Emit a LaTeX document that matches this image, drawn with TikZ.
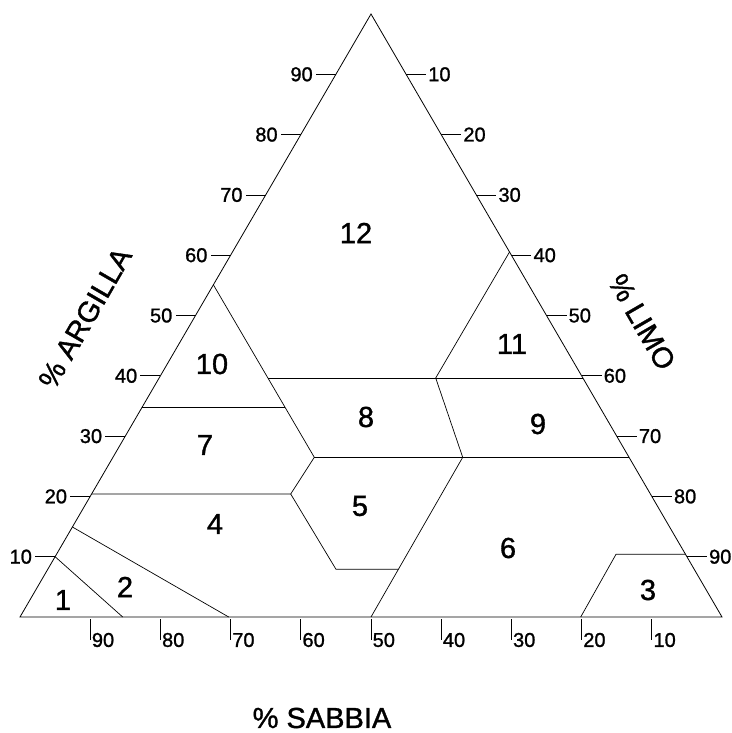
\documentclass[tikz,border=0pt]{standalone}
\usepackage{fontspec}
\setmainfont{Liberation Sans}
\newfontfamily\heavyfont{Liberation Sans}[FakeBold=1.2]
\begin{document}
\begin{tikzpicture}[x=1pt,y=-1pt,
  edge/.style={line width=0.8pt, black},
  bound/.style={line width=0.7pt, black},
  tickline/.style={line width=0.7pt, black},
  ticklab/.style={inner sep=0pt, font=\heavyfont\fontsize{20}{21}\selectfont},
  regionlab/.style={inner sep=0pt, font=\heavyfont\fontsize{29}{30}\selectfont},
  axislab/.style={inner sep=0pt, font=\heavyfont\fontsize{29}{31}\selectfont}]
\useasboundingbox (0,0) rectangle (731,733);
% triangle
\coordinate (L) at (20,617);
\coordinate (R) at (722,617);
\coordinate (T) at (371,14);
\draw[edge] (L) -- (R) -- (T) -- cycle;
% ticks: clay (left)
\foreach \c in {10,20,...,90} {
  \coordinate (cl\c) at ({20+3.51*\c},{617-6.03*\c});
  \draw[tickline] (cl\c) -- ++(-20,0) coordinate (clt\c);
  \node[ticklab, anchor=east] (cll\c) at ([xshift=-3pt]clt\c) {\c};
}
% ticks: silt (right)
\foreach \s in {10,20,...,90} {
  \coordinate (sr\s) at ({722-3.51*(100-\s)},{617-6.03*(100-\s)});
  \draw[tickline] (sr\s) -- ++(20,0) coordinate (srt\s);
  \node[ticklab, anchor=west] (srl\s) at ([xshift=2pt]srt\s) {\s};
}
% ticks: sand (bottom)
\foreach \a in {10,20,...,90} {
  \coordinate (sb\a) at ({20+7.02*(100-\a)},619);
  \draw[tickline] (sb\a) -- ++(0,21) coordinate (sbt\a);
  \node[ticklab, anchor=west] (sbl\a) at ([xshift=1.5pt]sbt\a) {\a};
}
% region vertices
\coordinate (p1) at (55.1,556.7);
\coordinate (p2) at (122.7,617);
\coordinate (p3) at (72.4,527);
\coordinate (p4) at (228.7,617);
\coordinate (p5) at (91.6,494);
\coordinate (p6) at (290.7,494);
\coordinate (p7) at (142,407.5);
\coordinate (p8) at (285.2,407.5);
\coordinate (p9) at (213.5,285);
\coordinate (p10) at (314.3,457.3);
\coordinate (p11) at (268.2,378);
\coordinate (p12) at (583,378);
\coordinate (p13) at (435.7,378);
\coordinate (p14) at (462.7,457.3);
\coordinate (p15) at (628.7,457.3);
\coordinate (p16) at (509.5,252);
\coordinate (p17) at (336,569.3);
\coordinate (p18) at (398.4,569.3);
\coordinate (p19) at (371,617);
\coordinate (p20) at (580.7,617);
\coordinate (p21) at (616,554.3);
\coordinate (p22) at (685.7,554.3);
% boundaries
\draw[bound] (p1) -- (p2);
\draw[bound] (p3) -- (p4);
\draw[bound] (p5) -- (p6) -- (p10);
\draw[bound] (p7) -- (p8);
\draw[bound] (p9) -- (p10);
\draw[bound] (p11) -- (p12);
\draw[bound] (p10) -- (p15);
\draw[bound] (p16) -- (p13) -- (p14);
\draw[bound] (p14) -- (p19);
\draw[bound] (p6) -- (p17) -- (p18);
\draw[bound] (p20) -- (p21) -- (p22);
% region labels
\node[regionlab] (r1) at (63,600) {1};
\node[regionlab] (r2) at (125,587) {2};
\node[regionlab] (r3) at (648,590) {3};
\node[regionlab] (r4) at (215,524) {4};
\node[regionlab] (r5) at (360,506) {5};
\node[regionlab] (r6) at (508,548) {6};
\node[regionlab] (r7) at (205,445) {7};
\node[regionlab] (r8) at (366,417) {8};
\node[regionlab] (r9) at (538,424) {9};
\node[regionlab] (r10) at (212,364) {10};
\node[regionlab] (r11) at (512,344) {11};
\node[regionlab] (r12) at (356,233) {12};
% axis labels
\node[axislab, rotate=60] (argilla) at (85,318) {\% ARGILLA};
\node[axislab, rotate=-60] (limo) at (642,322) {\% LIMO};
\node[axislab] (sabbia) at (322,718) {\% SABBIA};
\end{tikzpicture}
\end{document}
